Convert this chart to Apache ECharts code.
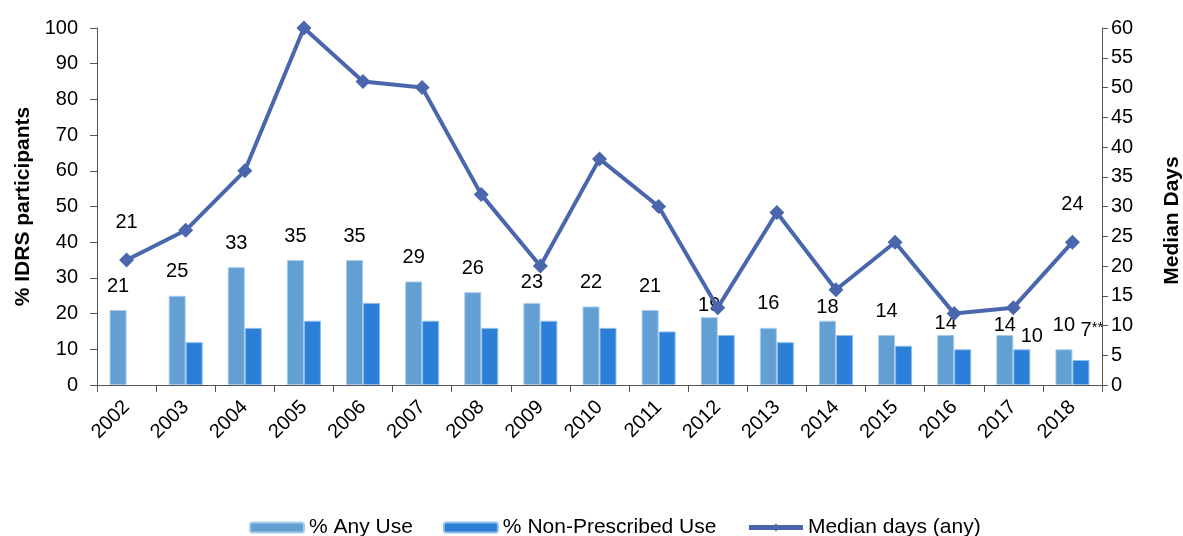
<!DOCTYPE html>
<html>
<head>
<meta charset="utf-8">
<script src="https://cdn.jsdelivr.net/npm/echarts@6/dist/echarts.min.js"></script>
<style>
  html, body { margin: 0; padding: 0; background: #fff; }
  #chart { width: 1183px; height: 536px; }
</style>
</head>
<body>
<div id="chart"></div>
<script>
const years = ['2002', '2003', '2004', '2005', '2006', '2007', '2008', '2009', '2010',
    '2011', '2012', '2013', '2014', '2015', '2016', '2017', '2018'];
const anyUse = [21, 25, 33, 35, 35, 29, 26, 23, 22, 21, 19, 16, 18, 14, 14, 14, 10];
const nonPrescribed = [null, 12, 16, 18, 23, 18, 16, 18, 16, 15, 14, 12, 14, 11, 10, 10, 7];
const medianDays = [21, 26, 36, 60, 51, 50, 32, 20, 38, 30, 13, 29, 16, 24, 12, 13, 24];

const FONT = '"Liberation Sans", Arial, sans-serif';
const lineColor = '#4A66AC';

const myChart = echarts.init(document.getElementById('chart'));

// labels sit where the original author dragged them, so some are nudged
const anyUseDist = {'2009': 10, '2012': 2, '2014': 3, '2016': 2, '2017': 0};
const anyUseData = anyUse.map(function (v, i) {
    const item = {value: v};
    if (anyUseDist[years[i]] !== undefined) item.label = {distance: anyUseDist[years[i]]};
    return item;
});

const nonPrescData = nonPrescribed.map(function (v, i) {
    const item = {value: v};
    if (years[i] === '2017') item.label = {show: true, offset: [10, 0], distance: 3};
    if (years[i] === '2018') {
        item.label = {
            show: true, offset: [11, 0], distance: 19,
            formatter: '{a|{c}}{b|**}',
            rich: {a: {fontSize: 20, color: '#000'}, b: {fontSize: 15, color: '#000', verticalAlign: 'top', padding: [0, 0, 6, 0]}}
        };
    }
    return item;
});

const medianData = medianDays.map(function (v, i) {
    const item = {value: v};
    if (i === 0 || i === years.length - 1) item.label = {show: true};
    return item;
});

const option = {
    animation: false,
    textStyle: {fontFamily: FONT},
    grid: {left: 97, right: 81, top: 28, bottom: 151, outerBoundsMode: 'none'},
    legend: {
        top: 512,
        left: 244,
        itemGap: 30,
        itemWidth: 54,
        itemHeight: 10,
        textStyle: {fontSize: 21, color: '#000', fontFamily: FONT},
        data: [
            {name: '% Any Use'},
            {name: '% Non-Prescribed Use'},
            {name: 'Median days (any)', lineStyle: {width: 5}}
        ]
    },
    xAxis: {
        type: 'category',
        data: years,
        axisLine: {lineStyle: {color: '#555', width: 1}},
        axisTick: {show: true, length: 7, lineStyle: {color: '#555'}},
        axisLabel: {rotate: 45, fontSize: 20, color: '#000', margin: 19}
    },
    yAxis: [
        {
            type: 'value',
            min: 0, max: 100, interval: 10,
            name: '% IDRS participants',
            nameLocation: 'middle',
            nameRotate: 90,
            nameGap: 63,
            nameTextStyle: {fontSize: 21, fontWeight: 'bold', color: '#000'},
            axisLine: {show: true, lineStyle: {color: '#555'}},
            axisTick: {show: true, length: 7, lineStyle: {color: '#555'}},
            axisLabel: {fontSize: 20, color: '#000', margin: 19},
            splitLine: {show: false}
        },
        {
            type: 'value',
            min: 0, max: 60, interval: 5,
            name: 'Median Days',
            nameLocation: 'middle',
            nameRotate: 90,
            nameGap: 60,
            nameTextStyle: {fontSize: 21, fontWeight: 'bold', color: '#000', padding: [0, 28, 0, 0]},
            axisLine: {show: true, lineStyle: {color: '#555'}},
            axisTick: {show: true, length: 6, lineStyle: {color: '#555'}},
            axisLabel: {fontSize: 20, color: '#000', margin: 9},
            splitLine: {show: false}
        }
    ],
    series: [
        {
            name: '% Any Use',
            type: 'bar',
            data: anyUseData,
            barWidth: 17,
            barGap: '0%',
            itemStyle: {color: '#629FD3', borderColor: '#A9CBEA', borderWidth: 1},
            label: {show: true, position: 'top', distance: 14, fontSize: 20, color: '#000'}
        },
        {
            name: '% Non-Prescribed Use',
            type: 'bar',
            data: nonPrescData,
            barWidth: 17,
            barGap: '0%',
            itemStyle: {color: '#2B7FD7', borderColor: '#8FBDEB', borderWidth: 1},
            label: {show: false, position: 'top', fontSize: 20, color: '#000'}
        },
        {
            name: 'Median days (any)',
            type: 'line',
            yAxisIndex: 1,
            data: medianData,
            symbol: 'diamond',
            symbolSize: 15,
            lineStyle: {color: lineColor, width: 4},
            itemStyle: {color: lineColor},
            label: {show: false, position: 'top', distance: 20, fontSize: 20, color: '#000'}
        }
    ]
};
myChart.setOption(option);
</script>
</body>
</html>
